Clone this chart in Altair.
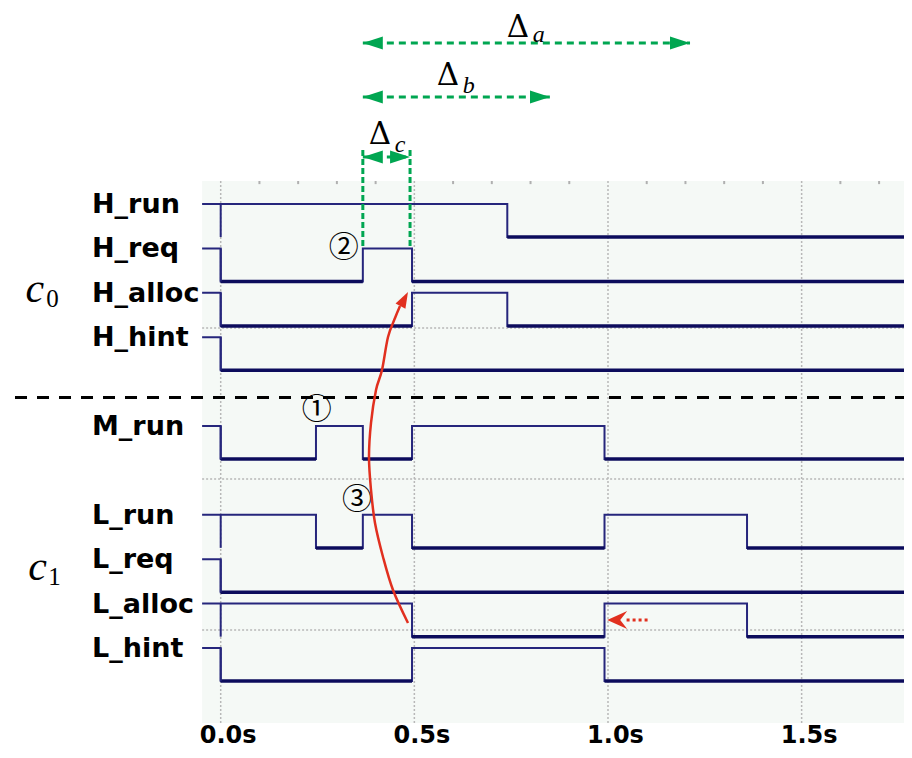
import altair as alt
import pandas as pd

# ---------------- data ----------------
signals = ["H_run", "H_req", "H_alloc", "H_hint", "M_run", "L_run", "L_req", "L_alloc", "L_hint"]
rows = [0, 1, 2, 3, 5, 7, 8, 9, 10]
amp = 0.745
t_start, t_end = -0.048, 1.7643

times = {
    "H_run":   [t_start, 0.0, 0.74, t_end],
    "H_req":   [t_start, 0.0, 0.367, 0.494, t_end],
    "H_alloc": [t_start, 0.0, 0.494, 0.74, t_end],
    "H_hint":  [t_start, 0.0, t_end],
    "M_run":   [t_start, 0.0, 0.246, 0.367, 0.494, 0.991, t_end],
    "L_run":   [t_start, 0.0, 0.246, 0.367, 0.494, 0.991, 1.359, t_end],
    "L_req":   [t_start, 0.0, t_end],
    "L_alloc": [t_start, 0.0, 0.494, 0.991, 1.359, t_end],
    "L_hint":  [t_start, 0.0, 0.494, 0.991, t_end],
}
levels = {
    "H_run":   [1, 1, 0, 0],
    "H_req":   [1, 0, 1, 0, 0],
    "H_alloc": [1, 0, 1, 0, 0],
    "H_hint":  [1, 0, 0],
    "M_run":   [1, 0, 1, 0, 1, 0, 0],
    "L_run":   [1, 1, 0, 1, 0, 1, 0, 0],
    "L_req":   [1, 0, 0],
    "L_alloc": [1, 1, 0, 1, 0, 0],
    "L_hint":  [1, 0, 1, 0, 0],
}

x_ticks = [0.0, 0.5, 1.0, 1.5]
minor_ticks = [0.1, 0.2, 0.3, 0.4, 0.6, 0.7, 0.8, 0.9, 1.1, 1.2, 1.3, 1.4, 1.6, 1.7]
hgrid = [2.793, 6.194, 9.595]
plot_top, plot_bottom = -0.518, 11.689
separator_y = 4.358

circled_text = ["\u2460", "\u2461", "\u2462"]
circled_t = [0.248, 0.318, 0.352]
circled_y = [4.64, 0.991, 6.667]

delta_sub = ["a", "b", "c"]
delta_t = [0.7676, 0.5869, 0.4113]
delta_y = [-3.75, -2.680, -1.351]
delta_sub_t = [0.806, 0.625, 0.4493]
delta_sub_y = [-3.65, -2.5, -1.171]
arrow_left = [0.367, 0.367, 0.367]
arrow_right = [1.2118, 0.8502, 0.4889]
arrow_y = [-3.626, -2.410, -1.059]
dc_lines_t = [0.367, 0.4889]
dc_lines_y = (-1.216, 0.991)

curve_t = [0.4836, 0.4449, 0.4191, 0.3984, 0.3881, 0.3829, 0.3881, 0.4010, 0.4165, 0.4320, 0.4501, 0.4630]
curve_y = [9.437, 8.694, 7.950, 7.185, 6.441, 5.698, 4.932, 4.189, 3.739, 2.995, 2.568, 2.297]
curve_tip = (0.4836, 1.982)
dot_arrow_tip = (0.998, 9.369)
dot_arrow_tail = 1.109

group_char = ["c", "c"]
group_sub = ["0", "1"]
group_t = [-0.504, -0.497]
group_y = [2.207, 8.468]
group_sub_t = [-0.4505, -0.4450]
group_sub_y = [2.32, 8.581]

label_t = -0.3323
label_dy = 0.203

# ---------------- tables ----------------
sig_pts, low_segs, glitch = [], [], []
for s, r in zip(signals, rows):
    ts, ls = times[s], levels[s]
    for i, (t, l) in enumerate(zip(ts, ls)):
        sig_pts.append({"sig": s, "i": i, "t": t, "y": r + (1 - l) * amp})
    for i in range(len(ts) - 1):
        if ls[i] == 0:
            low_segs.append({"t": ts[i], "t2": ts[i + 1], "y": r + amp})
    glitch.append({"t": 0.0, "y": r, "y2": r + amp})
sig_df = pd.DataFrame(sig_pts)
low_df = pd.DataFrame(low_segs)
glitch_df = pd.DataFrame(glitch)
labels_df = pd.DataFrame({"text": signals, "t": [label_t] * len(signals),
                          "y": [r + label_dy for r in rows]})

X = alt.Scale(domain=[-0.5492, t_end], nice=False, zero=False)
Y = alt.Scale(domain=[-4.4144, plot_bottom], nice=False, zero=False, reverse=True)

x_axis = alt.Axis(values=x_ticks, labelExpr="format(datum.value, '.1f') + 's'",
                  labelFont="DejaVu Sans", labelFontWeight="bold", labelFontSize=24,
                  labelColor="black", labelPadding=0, labelOffset=7, domain=False,
                  ticks=False, grid=False, title=None, labelFlush=False, labelOverlap=False)


def xq(f):
    return alt.X(f, type="quantitative", scale=X, axis=x_axis)


def yq(f):
    return alt.Y(f, type="quantitative", scale=Y, axis=None)


NAVY = "#26267c"
DARK = "#0c0c5c"
GREEN = "#00a651"
RED = "#e1301f"

bg = alt.Chart(pd.DataFrame({"t": [t_start], "t2": [t_end], "y": [plot_top], "y2": [plot_bottom]})).mark_rect(
    fill="#f5f9f6").encode(x=xq("t"), x2="t2", y=yq("y"), y2="y2")

vgrid = alt.Chart(pd.DataFrame({"t": x_ticks, "y": plot_top, "y2": plot_bottom})).mark_rule(
    color="#b8b8b8", strokeWidth=1.5, strokeDash=[2, 2]).encode(x=xq("t"), y=yq("y"), y2="y2")

hg = alt.Chart(pd.DataFrame({"y": hgrid, "t": t_start, "t2": t_end})).mark_rule(
    color="#b8b8b8", strokeWidth=1.5, strokeDash=[2, 2]).encode(x=xq("t"), x2="t2", y=yq("y"))

minor = alt.Chart(pd.DataFrame({"t": minor_ticks, "y": plot_top, "y2": plot_top + 0.07})).mark_rule(
    color="#b0b0b0", strokeWidth=2).encode(x=xq("t"), y=yq("y"), y2="y2")

lines = alt.Chart(sig_df).mark_line(interpolate="step-after", strokeWidth=2, color=NAVY).encode(
    x=xq("t"), y=yq("y"), detail="sig:N", order="i:Q")

lows = alt.Chart(low_df).mark_rule(strokeWidth=3.5, color=DARK).encode(x=xq("t"), x2="t2", y=yq("y"))

glitches = alt.Chart(glitch_df).mark_rule(strokeWidth=2, color=NAVY).encode(x=xq("t"), y=yq("y"), y2="y2")

sep = alt.Chart(pd.DataFrame({"t": [-0.5311], "t2": [t_end], "y": [separator_y]})).mark_rule(
    color="black", strokeWidth=3, strokeDash=[12, 10]).encode(x=xq("t"), x2="t2", y=yq("y"))

sig_labels = alt.Chart(labels_df).mark_text(
    align="left", baseline="alphabetic", font="DejaVu Sans", fontWeight="bold", fontSize=27,
    color="black").encode(x=xq("t"), y=yq("y"), text="text:N")

grp = alt.Chart(pd.DataFrame({"text": group_char, "t": group_t, "y": group_y})).mark_text(
    align="left", baseline="alphabetic", font="Liberation Serif", fontStyle="italic", fontSize=42,
    color="black").encode(x=xq("t"), y=yq("y"), text="text:N")
grp_sub = alt.Chart(pd.DataFrame({"text": group_sub, "t": group_sub_t, "y": group_sub_y})).mark_text(
    align="left", baseline="alphabetic", font="Liberation Serif", fontSize=25,
    color="black").encode(x=xq("t"), y=yq("y"), text="text:N")

circ = alt.Chart(pd.DataFrame({"text": circled_text, "t": circled_t, "y": circled_y})).mark_text(
    align="center", baseline="middle", font="Noto Sans CJK JP", fontSize=30, color="black").encode(
    x=xq("t"), y=yq("y"), text="text:N")

arr_df = pd.DataFrame({"tl": arrow_left, "tr": arrow_right, "y": arrow_y})
arr_lines = alt.Chart(arr_df).mark_rule(color=GREEN, strokeWidth=3, strokeDash=[7, 5]).encode(
    x=xq("tl"), x2="tr", y=yq("y"))
head_l = alt.Chart(arr_df).mark_point(shape="M 0 0 L 2 -0.65 L 2 0.65 Z", size=400, filled=True,
                                      fill=GREEN, opacity=1, strokeWidth=0).encode(x=xq("tl"), y=yq("y"))
head_r = alt.Chart(arr_df).mark_point(shape="M 0 0 L -2 -0.65 L -2 0.65 Z", size=400, filled=True,
                                      fill=GREEN, opacity=1, strokeWidth=0).encode(x=xq("tr"), y=yq("y"))
dc_lines = alt.Chart(pd.DataFrame({"t": dc_lines_t, "y": dc_lines_y[0], "y2": dc_lines_y[1]})).mark_rule(
    color=GREEN, strokeWidth=3, strokeDash=[6, 3]).encode(x=xq("t"), y=yq("y"), y2="y2")

delta = alt.Chart(pd.DataFrame({"text": ["\u0394"] * 3, "t": delta_t, "y": delta_y})).mark_text(
    align="center", baseline="alphabetic", font="DejaVu Serif", fontSize=31, color="black").encode(
    x=xq("t"), y=yq("y"), text="text:N")
delta_s = alt.Chart(pd.DataFrame({"text": delta_sub, "t": delta_sub_t, "y": delta_sub_y})).mark_text(
    align="left", baseline="alphabetic", font="Liberation Serif", fontStyle="italic", fontSize=24,
    color="black").encode(x=xq("t"), y=yq("y"), text="text:N")

curve = alt.Chart(pd.DataFrame({"t": curve_t, "y": curve_y, "i": range(len(curve_t))})).mark_line(
    interpolate="cardinal", color=RED, strokeWidth=2.5).encode(x=xq("t"), y=yq("y"), order="i:Q")
curve_head = alt.Chart(pd.DataFrame({"t": [curve_tip[0]], "y": [curve_tip[1]]})).mark_point(
    shape="M 0 0 L -0.7 2 L 0.7 2 Z", size=256, angle=28, filled=True, fill=RED, opacity=1,
    strokeWidth=0).encode(x=xq("t"), y=yq("y"))

dot_line = alt.Chart(pd.DataFrame({"t": [dot_arrow_tip[0] + 0.05], "t2": [dot_arrow_tail],
                                   "y": [dot_arrow_tip[1]]})).mark_rule(
    color=RED, strokeWidth=3, strokeDash=[3, 3]).encode(x=xq("t"), x2="t2", y=yq("y"))
dot_head = alt.Chart(pd.DataFrame({"t": [dot_arrow_tip[0]], "y": [dot_arrow_tip[1]]})).mark_point(
    shape="M 0 0 L 2 -0.9 L 1.3 0 L 2 0.9 Z", size=400, filled=True, fill=RED, opacity=1,
    strokeWidth=0).encode(x=xq("t"), y=yq("y"))

chart = alt.layer(
    bg, vgrid, hg, minor, lines, lows, glitches, sep, sig_labels, grp, grp_sub, circ,
    dc_lines, arr_lines, head_l, head_r, delta, delta_s, curve, curve_head, dot_line, dot_head
).properties(
    width=896, height=715,
    padding={"left": 0, "top": 0, "right": 0, "bottom": 26},
    autosize=alt.AutoSizeParams(type="none"),
).configure_view(stroke=None)

chart.save("out.html", embed_options={"renderer": "svg", "actions": False})
